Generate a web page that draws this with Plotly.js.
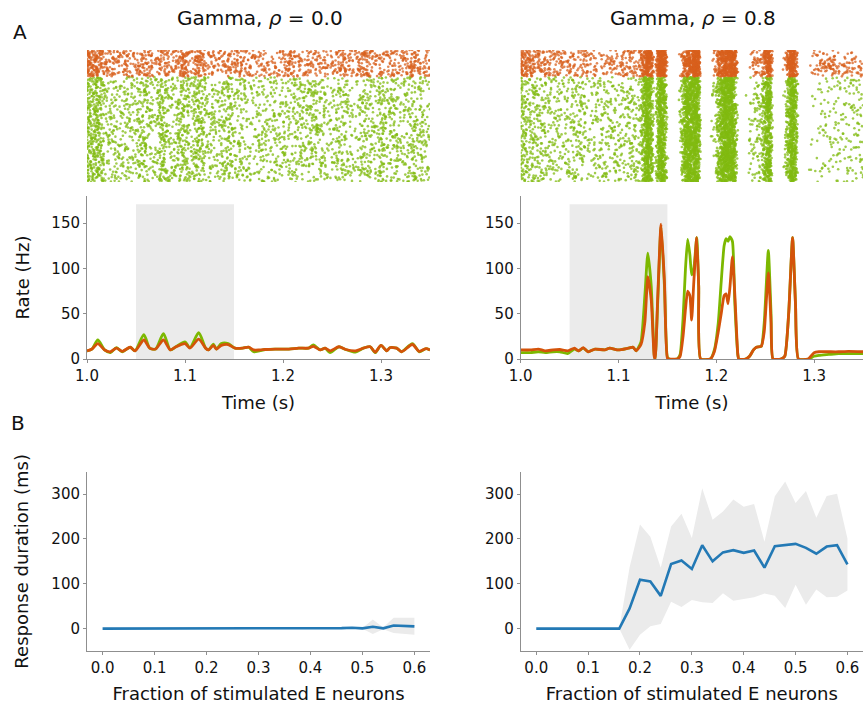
<!DOCTYPE html>
<html>
<head>
<meta charset="utf-8">
<script src="https://cdn.plot.ly/plotly-3.0.1.min.js"></script>
<style>html,body{margin:0;padding:0;background:#fff;}#chart{width:863px;height:707px;}</style>
</head>
<body>
<div id="chart"></div>
<script>
// ---------------- data ----------------
// Panel A, left (rho = 0.0): population rates (Hz)
const leftTime = [1.000,1.005,1.011,1.018,1.024,1.030,1.036,1.044,1.049,1.058,1.064,1.070,1.078,1.085,1.090,1.100,1.105,1.114,1.121,1.124,1.129,1.132,1.137,1.144,1.151,1.159,1.165,1.170,1.176,1.182,1.192,1.206,1.216,1.226,1.231,1.238,1.243,1.248,1.257,1.264,1.274,1.282,1.289,1.294,1.300,1.306,1.309,1.316,1.321,1.332,1.339,1.346,1.350];
const leftRateE = [9,11,21,10,7,12.5,8,13,9,27,12,11,28,10,13,19,12.5,29,12,10,16.5,11,17,17,12,12,13,8,9,10.5,11,11,12,12,15.5,10,12,7,13.5,10.5,7.5,12,13.5,7,15,9,12.5,12,8,17,8,11.5,10];
const leftRateI = [9,11,17,10,8,12,8.5,13,9,21,12,11,21,10,13,17,12,22,12,10,15,11,15,16,12,12,13,10,10,10.5,11,11,12,12,14,10,12,9,13.5,10.5,9,12,13.5,7.5,15,9,12.5,12,8,16,8.5,11.5,10];

// Panel A, right (rho = 0.8): population rates (Hz)
const rightTime = [1.000,1.010,1.018,1.025,1.033,1.040,1.048,1.055,1.059,1.064,1.069,1.076,1.086,1.091,1.100,1.110,1.115,1.118,1.123,1.127,1.130,1.1335,1.1365,1.1375,1.140,1.1435,1.147,1.150,1.152,1.160,1.163,1.166,1.1685,1.1707,1.173,1.1748,1.177,1.180,1.182,1.184,1.194,1.198,1.202,1.205,1.208,1.210,1.212,1.214,1.2165,1.219,1.222,1.223,1.230,1.234,1.238,1.241,1.246,1.249,1.2532,1.256,1.258,1.266,1.270,1.274,1.278,1.281,1.284,1.294,1.300,1.305,1.315,1.325,1.335,1.350];
const rightRateE = [7,7,8,7,8,8,6,11,9,12,8,11,10,12,10,12,13,9,19,71,117,80,5,0,60,146,80,2,0,0,5,45,100,132,115,93,100,134,80,0,0,10,40,85,125,133,130,135,130,60,5,0,0,3,10,13,14,40,120,50,0,0,3,50,134,60,0,0,3,4,5,6,6,6];
const rightRateI = [10,10,11,9,10,10.5,9,12,9,12.5,8,11,10,12,10,12,13,9,16,41,91,65,3,0,65,149,85,1,0,0,3,25,55,75,70,43,85,134,80,0,0,8,30,50,70,72,61,80,113,70,5,0,0,3,10,13,14,30,95,40,0,0,3,50,134,60,0,0,7,8,8,8,8.5,8];

// Stimulation window (s)
const stimWindow = [1.05, 1.15];

// Panel B: response duration (ms) vs fraction of stimulated E neurons
const fractions = [0.00,0.02,0.04,0.06,0.08,0.10,0.12,0.14,0.16,0.18,0.20,0.22,0.24,0.26,0.28,0.30,0.32,0.34,0.36,0.38,0.40,0.42,0.44,0.46,0.48,0.50,0.52,0.54,0.56,0.58,0.60];
const durLeftMean = [0,0,0,0,0,0,0,0,0,0,0,0,0,0,0,0,0,0,0,0,0,0,0,1,2,0.5,4,0.5,7,6,5];
const durLeftStd  = [0,0,0,0,0,0,0,0,0,0,0,0,0,0,0,0,0,0,0,0,0,0,0,0,1,1,16,2,17,18,19];
const durRightMean = [0,0,0,0,0,0,0,0,0,45,109,105,73,144,152,133,186,150,170,175,169,174,136,184,187,189,180,167,183,186,143];
const durRightStd  = [0,0,0,0,0,0,0,0,0,92,123,100,63,84,104,69,127,93,91,113,103,104,58,111,141,91,127,80,113,115,58];

const titles = ["Gamma, <i>ρ</i> = 0.0", "Gamma, <i>ρ</i> = 0.8"];
const rateTicks = [0, 50, 100, 150];
const timeTicks = [1.0, 1.1, 1.2, 1.3];
const fracTicks = [0.0, 0.1, 0.2, 0.3, 0.4, 0.5, 0.6];
const durTicks = [0, 100, 200, 300];

// ---------------- raster built from the read rates ----------------
// Individual spikes cannot be read; they are placed deterministically
// (Halton / van der Corput sequences, no random numbers) so that their
// density follows the rate curves read above.
function vdc(n, b){ let v = 0, d = 1/b; while (n > 0){ v += (n % b)*d; n = Math.floor(n/b); d /= b; } return v; }
function interp(ts, vs, t){
  if (t <= ts[0]) return vs[0];
  for (let i = 1; i < ts.length; i++){
    if (t <= ts[i]){ const a = (t - ts[i-1])/(ts[i]-ts[i-1]); return vs[i-1] + a*(vs[i]-vs[i-1]); }
  }
  return vs[vs.length-1];
}
function raster(ts, rs, N, y0, y1, off){
  const xs = [], ys = [];
  const dt = 0.0002;
  const grid = [], rate = [];
  for (let t = ts[0]; t <= ts[ts.length-1] + 1e-9; t += dt){ grid.push(t); rate.push(interp(ts, rs, t)); }
  for (let n = 0; n < N; n++){
    const m = n + 1 + off;
    const g = 0.55 + 0.9*vdc(m, 3);
    let k = 0;
    const thr = () => -Math.log(1 - 0.999*vdc(m + 1013*k + 1, 5));
    let th = thr();
    let acc = vdc(m, 2)*th*0.999;
    const yy = y0 + (y1 - y0)*(n + 0.5)/N;
    for (let i = 0; i < grid.length; i++){
      acc += g*rate[i]*dt;
      if (acc >= th){
        xs.push(grid[i]); ys.push(yy);
        acc -= th; k++; th = thr();
      }
    }
  }
  return {x: xs, y: ys};
}

const NE = 700, NI = 300;
const GREEN = '#7cb800', ORANGE = '#d4530a', BLUE = '#2379b5', SHADE = '#ebebeb';
const rLE = raster(leftTime, leftRateE, NE, 0, 0.795, 17);
const rLI = raster(leftTime, leftRateI, NI, 0.8, 1.0, 3001);
const rRE = raster(rightTime, rightRateE, NE, 0, 0.795, 5003);
const rRI = raster(rightTime, rightRateI, NI, 0.8, 1.0, 9007);

const dot = (c) => ({size: 2.6, color: c, opacity: 0.75, line: {width: 0}});
const traces = [
  {type:'scatter', mode:'markers', x:rLE.x, y:rLE.y, xaxis:'x', yaxis:'y', marker:dot('#82bb12'), hoverinfo:'skip'},
  {type:'scatter', mode:'markers', x:rLI.x, y:rLI.y, xaxis:'x', yaxis:'y', marker:dot('#d8601e'), hoverinfo:'skip'},
  {type:'scatter', mode:'markers', x:rRE.x, y:rRE.y, xaxis:'x2', yaxis:'y2', marker:dot('#82bb12'), hoverinfo:'skip'},
  {type:'scatter', mode:'markers', x:rRI.x, y:rRI.y, xaxis:'x2', yaxis:'y2', marker:dot('#d8601e'), hoverinfo:'skip'},
  {type:'scatter', mode:'lines', x:leftTime, y:leftRateE, xaxis:'x3', yaxis:'y3', line:{color:GREEN, width:2.8, shape:'spline', smoothing:0.7}},
  {type:'scatter', mode:'lines', x:leftTime, y:leftRateI, xaxis:'x3', yaxis:'y3', line:{color:ORANGE, width:2.8, shape:'spline', smoothing:0.7}},
  {type:'scatter', mode:'lines', x:rightTime, y:rightRateE, xaxis:'x4', yaxis:'y4', line:{color:GREEN, width:2.8, shape:'spline', smoothing:0.5}},
  {type:'scatter', mode:'lines', x:rightTime, y:rightRateI, xaxis:'x4', yaxis:'y4', line:{color:ORANGE, width:2.8, shape:'spline', smoothing:0.5}},
];
function band(mean, std, xa, ya){
  const lo = mean.map((m,i)=>m - std[i]), hi = mean.map((m,i)=>m + std[i]);
  return [
    {type:'scatter', mode:'lines', x:fractions, y:lo, xaxis:xa, yaxis:ya, line:{width:0, color:SHADE}, hoverinfo:'skip'},
    {type:'scatter', mode:'lines', x:fractions, y:hi, xaxis:xa, yaxis:ya, line:{width:0, color:SHADE}, fill:'tonexty', fillcolor:SHADE, hoverinfo:'skip'},
    {type:'scatter', mode:'lines', x:fractions, y:mean, xaxis:xa, yaxis:ya, line:{color:BLUE, width:2.6}}
  ];
}
traces.push(...band(durLeftMean, durLeftStd, 'x5', 'y5'));
traces.push(...band(durRightMean, durRightStd, 'x6', 'y6'));

const FONT = 'DejaVu Sans, Liberation Sans, sans-serif';
const TXT = '#111';
const LINE = '#8f8f8f';
const colL = [87/863, 430/863], colR = [520.7/863, 1.0];
const dRaster = [(707-182)/707, (707-50)/707];
const dRate = [(707-359)/707, (707-196)/707];
const dDur = [(707-651)/707, (707-471.7)/707];

function hidden(domain, range, anchor){ return {domain, range, anchor, visible:false, fixedrange:true}; }
function ax(domain, range, anchor, tickvals, fmt, title, standoff){
  const a = {domain, range, anchor, showline:true, linecolor:LINE, linewidth:1, showgrid:false, zeroline:false,
    ticks:'outside', ticklen:3, tickcolor:LINE, tickwidth:1, tickmode:'array', tickvals,
    ticktext: tickvals.map(v => fmt ? v.toFixed(fmt) : String(v)),
    tickfont:{family:FONT, size:15, color:TXT}, fixedrange:true};
  if (title) a.title = {text:title, font:{family:FONT, size:18, color:TXT}, standoff};
  return a;
}

const layout = {
  width:863, height:707, margin:{l:0, r:0, t:0, b:0}, paper_bgcolor:'#fff', plot_bgcolor:'rgba(0,0,0,0)',
  showlegend:false, font:{family:FONT, color:TXT},
  xaxis: hidden(colL, [1.0, 1.35], 'y'),
  yaxis: hidden(dRaster, [0, 1], 'x'),
  xaxis2: hidden(colR, [1.0, 1.35], 'y2'),
  yaxis2: hidden(dRaster, [0, 1], 'x2'),
  xaxis3: ax(colL, [1.0, 1.35], 'y3', timeTicks, 1, 'Time (s)', 12),
  yaxis3: ax(dRate, [0, 180], 'x3', rateTicks, 0, 'Rate (Hz)', 17),
  xaxis4: ax(colR, [1.0, 1.35], 'y4', timeTicks, 1, 'Time (s)', 12),
  yaxis4: ax(dRate, [0, 180], 'x4', rateTicks, 0, null),
  xaxis5: ax(colL, [-0.03, 0.63], 'y5', fracTicks, 1, 'Fraction of stimulated E neurons', 11),
  yaxis5: ax(dDur, [-50, 350], 'x5', durTicks, 0, 'Response duration (ms)', 18),
  xaxis6: ax(colR, [-0.03, 0.63], 'y6', fracTicks, 1, 'Fraction of stimulated E neurons', 11),
  yaxis6: ax(dDur, [-50, 350], 'x6', durTicks, 0, null),
  shapes: [
    {type:'rect', xref:'x3', yref:'y3', x0:stimWindow[0], x1:stimWindow[1], y0:0, y1:171, fillcolor:SHADE, line:{width:0}, layer:'below'},
    {type:'rect', xref:'x4', yref:'y4', x0:stimWindow[0], x1:stimWindow[1], y0:0, y1:171, fillcolor:SHADE, line:{width:0}, layer:'below'}
  ],
  annotations: [
    {text:titles[0], xref:'paper', yref:'paper', x:259.5/863, y:1-18/707, xanchor:'center', yanchor:'middle', showarrow:false, font:{family:FONT, size:20, color:TXT}},
    {text:titles[1], xref:'paper', yref:'paper', x:692.5/863, y:1-18/707, xanchor:'center', yanchor:'middle', showarrow:false, font:{family:FONT, size:20, color:TXT}},
    {text:'A', xref:'paper', yref:'paper', x:20/863, y:1-32/707, xanchor:'center', yanchor:'middle', showarrow:false, font:{family:FONT, size:20, color:TXT}},
    {text:'B', xref:'paper', yref:'paper', x:18/863, y:1-423/707, xanchor:'center', yanchor:'middle', showarrow:false, font:{family:FONT, size:20, color:TXT}}
  ]
};

Plotly.newPlot('chart', traces, layout, {staticPlot:true, displayModeBar:false});
</script>
</body>
</html>
